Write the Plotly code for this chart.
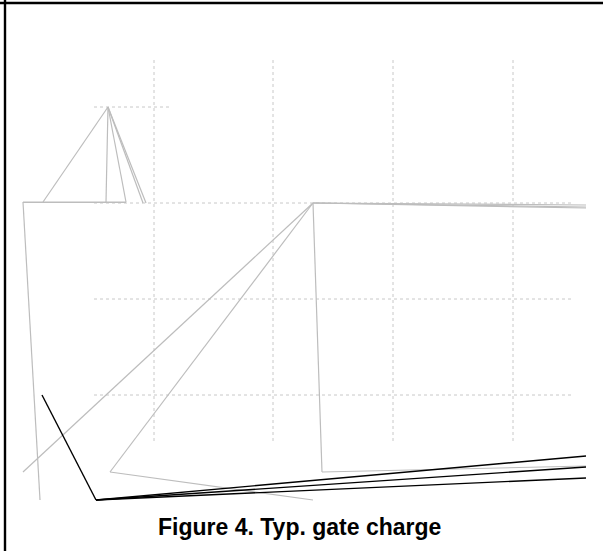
import plotly.graph_objects as go

W, H = 603, 551

# ---- data (drawing units = page pixels of the reference) ----
# dotted grid
grid_v_x = [154, 273, 393, 513]
grid_v_y = [60, 442]
grid_h_y = [203, 299, 395]
grid_h_x = [94, 572]
grid_short_y = 107
grid_short_x = [94, 170]

# gray polylines (segments)
gray_segments = [
    [(23, 202), (126, 202)],
    [(23, 202.5), (126, 202.5)],
    [(23, 202), (40, 500)],
    [(43, 202), (108, 107)],
    [(108, 107), (106, 202)],
    [(108, 107), (126, 202)],
    [(108, 107), (143, 203)],
    [(108, 107), (146, 203)],
    [(313, 203), (586, 205)],
    [(313, 203), (586, 207)],
    [(313, 203), (586, 208)],
    [(313, 203), (322, 472)],
    [(322, 472), (586, 466)],
    [(313, 203), (23, 472)],
    [(313, 203), (110, 472)],
    [(110, 472), (313, 500)],
]

# black polylines (segments)
black_segments = [
    [(42, 395), (96, 500)],
    [(96, 500), (586, 456)],
    [(96, 500), (586, 467)],
    [(96, 500), (586, 478)],
]

frame_top_y = 3
frame_left_x = 5

title_text = "Figure 4. Typ. gate charge"


def seg_xy(segs):
    xs, ys = [], []
    for s in segs:
        for (x, y) in s:
            xs.append(x)
            ys.append(y)
        xs.append(None)
        ys.append(None)
    return xs, ys


fig = go.Figure()

gx, gy = [], []
for x in grid_v_x:
    gx += [x, x, None]
    gy += [grid_v_y[0], grid_v_y[1], None]
for y in grid_h_y:
    gx += [grid_h_x[0], grid_h_x[1], None]
    gy += [y, y, None]
gx += [grid_short_x[0], grid_short_x[1], None]
gy += [grid_short_y, grid_short_y, None]
fig.add_trace(go.Scatter(x=gx, y=gy, mode="lines",
                         line=dict(color="#c8c8c8", width=1, dash="dot"),
                         hoverinfo="skip", showlegend=False))

xs, ys = seg_xy(gray_segments)
fig.add_trace(go.Scatter(x=xs, y=ys, mode="lines",
                         line=dict(color="#bdbdbd", width=1.2),
                         hoverinfo="skip", showlegend=False))

xs, ys = seg_xy(black_segments)
fig.add_trace(go.Scatter(x=xs, y=ys, mode="lines",
                         line=dict(color="#000000", width=1.4),
                         hoverinfo="skip", showlegend=False))

fig.add_trace(go.Scatter(x=[0, W, None, frame_left_x, frame_left_x],
                         y=[frame_top_y, frame_top_y, None, 0, H],
                         mode="lines", line=dict(color="#000000", width=2.4),
                         hoverinfo="skip", showlegend=False))

fig.add_annotation(x=299, y=527, xref="x", yref="y", text="<b>" + title_text + "</b>",
                   showarrow=False, xanchor="center", yanchor="middle",
                   font=dict(family="Liberation Sans, Arial, sans-serif", size=23, color="#000000"))

fig.update_layout(
    width=W, height=H,
    margin=dict(l=0, r=0, t=0, b=0),
    paper_bgcolor="white", plot_bgcolor="white",
    xaxis=dict(range=[0, W], visible=False, fixedrange=True),
    yaxis=dict(range=[H, 0], visible=False, fixedrange=True),
)

fig.write_html("out.html", config={"displayModeBar": False},
               post_script="document.body.style.margin='0';document.body.style.overflow='hidden';")
